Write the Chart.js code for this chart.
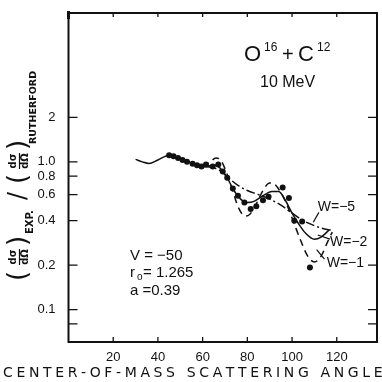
<!DOCTYPE html>
<html>
<head>
<title>O16 + C12 elastic scattering</title>
<script src="https://cdn.jsdelivr.net/npm/chart.js"></script>
<style>
html, body { margin: 0; padding: 0; background: #fff; }
#wrap { width: 382px; height: 382px; }
</style>
</head>
<body>
<div id="wrap"><canvas id="myChart" width="382" height="382"></canvas></div>
<script>
// measured cross-section ratio (dots)
const expAngle = [45, 47, 49, 51, 53, 55.5, 57.5, 59.5, 61.5, 64.5, 67, 69, 71, 73.5, 75.8, 78.7, 81.5, 84, 87, 89.5, 95.8, 98.6, 101, 104.5, 108];
const expRatio = [1.11, 1.09, 1.06, 1.03, 1.0, 0.97, 0.95, 0.93, 0.96, 0.93, 0.96, 0.86, 0.78, 0.66, 0.59, 0.53, 0.48, 0.50, 0.55, 0.58, 0.67, 0.57, 0.40, 0.395, 0.193];

// optical model curves
const w2Angle = [30, 33, 36, 40, 45, 50, 55, 60, 63, 66, 68, 71, 74, 77, 80, 83, 87, 91, 94, 97, 100, 103, 106, 110, 113, 116.5];
const w2Ratio = [1.04, 1.0, 0.975, 1.03, 1.11, 1.05, 0.98, 0.93, 0.94, 0.95, 0.9, 0.78, 0.64, 0.56, 0.53, 0.54, 0.59, 0.63, 0.63, 0.55, 0.45, 0.38, 0.33, 0.30, 0.31, 0.345];

const w1Angle = [60, 63, 66, 68, 70, 73, 76, 79, 81, 84, 87, 90, 92, 95, 98, 101, 104, 107, 110, 113, 116, 118];
const w1Ratio = [0.93, 0.99, 1.06, 1.03, 0.9, 0.67, 0.49, 0.43, 0.44, 0.52, 0.64, 0.72, 0.71, 0.62, 0.5, 0.38, 0.29, 0.23, 0.21, 0.23, 0.29, 0.335];

const w5Angle = [60, 65, 68, 72, 76, 80, 85, 90, 95, 100, 105, 110, 115, 117.5];
const w5Ratio = [0.93, 0.91, 0.87, 0.77, 0.69, 0.64, 0.6, 0.56, 0.51, 0.45, 0.40, 0.37, 0.35, 0.345];

const xTicks = [20, 40, 60, 80, 100, 120];
const yTicks = [0.08, 0.1, 0.2, 0.4, 0.6, 0.8, 1, 2];
const yTickLabels = ['', '0.1', '0.2', '0.4', '0.6', '0.8', '1.0', '2'];

const pts = (xs, ys) => xs.map((x, i) => ({ x: x, y: ys[i] }));
const INK = '#111';

function rtext(ctx, str, sx, sy, font) {
  ctx.save();
  ctx.translate(sx, sy);
  ctx.rotate(-Math.PI / 2);
  ctx.font = font;
  ctx.textAlign = 'left';
  ctx.textBaseline = 'middle';
  ctx.fillText(str, 0, 0);
  ctx.restore();
}

function rfrac(ctx, sx, sy) {
  // d sigma over d Omega, rotated, centred at (sx, sy)
  ctx.save();
  ctx.translate(sx, sy);
  ctx.rotate(-Math.PI / 2);
  ctx.font = 'bold 10px "DejaVu Sans"';
  ctx.textAlign = 'center';
  ctx.textBaseline = 'middle';
  ctx.fillText('d\u03c3', 0, -5.5);
  ctx.fillText('d\u03a9', 0, 6.5);
  ctx.lineWidth = 1.2;
  ctx.beginPath();
  ctx.moveTo(-8, 0.5);
  ctx.lineTo(8, 0.5);
  ctx.stroke();
  ctx.restore();
}

const decor = {
  id: 'decor',
  afterDraw(chart) {
    const ctx = chart.ctx;
    const a = chart.chartArea;
    const xs = chart.scales.x, ys = chart.scales.y;
    ctx.save();
    ctx.strokeStyle = INK;
    ctx.fillStyle = INK;

    // frame
    ctx.lineWidth = 2;
    ctx.beginPath();
    ctx.moveTo(a.left, a.top); ctx.lineTo(a.right, a.top);
    ctx.lineTo(a.right, a.bottom); ctx.lineTo(a.left, a.bottom);
    ctx.closePath();
    ctx.stroke();
    ctx.fillRect(a.left - 1.5, a.top - 2, 3, 8);

    // inward ticks
    ctx.lineWidth = 1.3;
    ctx.beginPath();
    yTicks.forEach(v => {
      const y = ys.getPixelForValue(v);
      ctx.moveTo(a.left, y); ctx.lineTo(a.left + 9, y);
      ctx.moveTo(a.right, y); ctx.lineTo(a.right - 9, y);
    });
    xTicks.forEach(v => {
      const x = xs.getPixelForValue(v);
      ctx.moveTo(x, a.bottom); ctx.lineTo(x, a.bottom - 5);
      ctx.moveTo(x, a.top); ctx.lineTo(x, a.top + 4);
    });
    ctx.stroke();

    // reaction label
    ctx.textBaseline = 'alphabetic';
    ctx.textAlign = 'left';
    ctx.font = '22px "Liberation Sans"';
    ctx.fillText('O', 244, 61);
    ctx.fillText('C', 298, 61);
    ctx.font = '20px "Liberation Sans"';
    ctx.fillText('+', 282, 61);
    ctx.font = '12px "Liberation Sans"';
    ctx.fillText('16', 264, 51);
    ctx.fillText('12', 317, 51);
    ctx.font = '16px "Liberation Sans"';
    ctx.fillText('10 MeV', 260, 87);

    // parameters
    ctx.font = '15px "Liberation Sans"';
    ctx.fillText('V = \u221250', 130, 260);
    ctx.fillText('r', 130, 277);
    ctx.font = '10px "Liberation Sans"';
    ctx.fillText('o', 137, 280);
    ctx.font = '15px "Liberation Sans"';
    ctx.fillText('= 1.265', 143, 277);
    ctx.fillText('a =0.39', 130, 295);

    // curve labels with leaders (anchored in data units)
    ctx.font = '14px "Liberation Sans"';
    const lab = [
      ['W=\u22125', 111.5, 0.465, 112, 0.455, 109.5, 0.39],
      ['W=\u22122', 117, 0.27, 117, 0.30, 111.5, 0.32],
      ['W=\u22121', 115.5, 0.195, 114.5, 0.22, 111, 0.255]
    ];
    ctx.lineWidth = 1.2;
    lab.forEach(l => {
      ctx.fillText(l[0], xs.getPixelForValue(l[1]), ys.getPixelForValue(l[2]));
      ctx.beginPath();
      ctx.moveTo(xs.getPixelForValue(l[3]), ys.getPixelForValue(l[4]));
      ctx.lineTo(xs.getPixelForValue(l[5]), ys.getPixelForValue(l[6]));
      ctx.stroke();
    });

    // x title, spread to the page width
    const title = 'CENTER-OF-MASS SCATTERING ANGLE';
    ctx.font = '14px "DejaVu Sans"';
    const w = ctx.measureText(title).width;
    const gap = (378 - w) / (title.length - 1);
    let cx = 3;
    for (const ch of title) {
      ctx.fillText(ch, cx, 377);
      cx += ctx.measureText(ch).width + gap;
    }

    // y title (rotated)
    const par = '26px "DejaVu Sans"';
    rtext(ctx, '(', 19, 281, par);
    rfrac(ctx, 19, 257);
    rtext(ctx, ')', 19, 246, par);
    rtext(ctx, 'EXP.', 30, 234, 'bold 10px "DejaVu Sans"');
    rtext(ctx, '/', 19, 200, '24px "DejaVu Sans"');
    rtext(ctx, '(', 19, 184, par);
    rfrac(ctx, 19, 161);
    rtext(ctx, ')', 19, 150, par);
    rtext(ctx, 'RUTHERFORD', 34, 144, 'bold 9.5px "DejaVu Sans"');
    ctx.restore();
  }
};

const ctx = document.getElementById('myChart').getContext('2d');
new Chart(ctx, {
  type: 'line',
  data: {
    datasets: [
      { label: 'data', data: pts(expAngle, expRatio), showLine: false, pointRadius: 3, pointBackgroundColor: INK, pointBorderWidth: 0 },
      { label: 'W=-2', data: pts(w2Angle, w2Ratio), borderColor: INK, borderWidth: 1.5, pointRadius: 0, cubicInterpolationMode: 'monotone' },
      { label: 'W=-1', data: pts(w1Angle, w1Ratio), borderColor: INK, borderWidth: 1.5, borderDash: [7, 5], pointRadius: 0, cubicInterpolationMode: 'monotone' },
      { label: 'W=-5', data: pts(w5Angle, w5Ratio), borderColor: INK, borderWidth: 1.5, borderDash: [9, 3, 2, 3], pointRadius: 0, cubicInterpolationMode: 'monotone' }
    ]
  },
  options: {
    responsive: false,
    animation: false,
    events: [],
    layout: { padding: { top: 13, right: 5, left: 0, bottom: 0 } },
    plugins: { legend: { display: false }, tooltip: { enabled: false } },
    scales: {
      x: {
        type: 'linear', min: 0, max: 138,
        grid: { display: false },
        border: { display: false },
        afterBuildTicks: s => { s.ticks = xTicks.map(v => ({ value: v })); },
        afterFit: s => { s.height = 40; },
        ticks: { color: INK, font: { family: 'Liberation Sans', size: 13 }, padding: 0, maxRotation: 0, callback: v => String(v) }
      },
      y: {
        type: 'logarithmic', min: 0.0604, max: 10.17,
        grid: { display: false },
        border: { display: false },
        afterBuildTicks: s => { s.ticks = yTicks.map(v => ({ value: v })); },
        afterFit: s => { s.width = 68.5; },
        ticks: { color: INK, font: { family: 'Liberation Sans', size: 13 }, padding: 5, autoSkip: false,
          callback: v => yTickLabels[yTicks.indexOf(v)] ?? '' }
      }
    }
  },
  plugins: [decor]
});
</script>
</body>
</html>
